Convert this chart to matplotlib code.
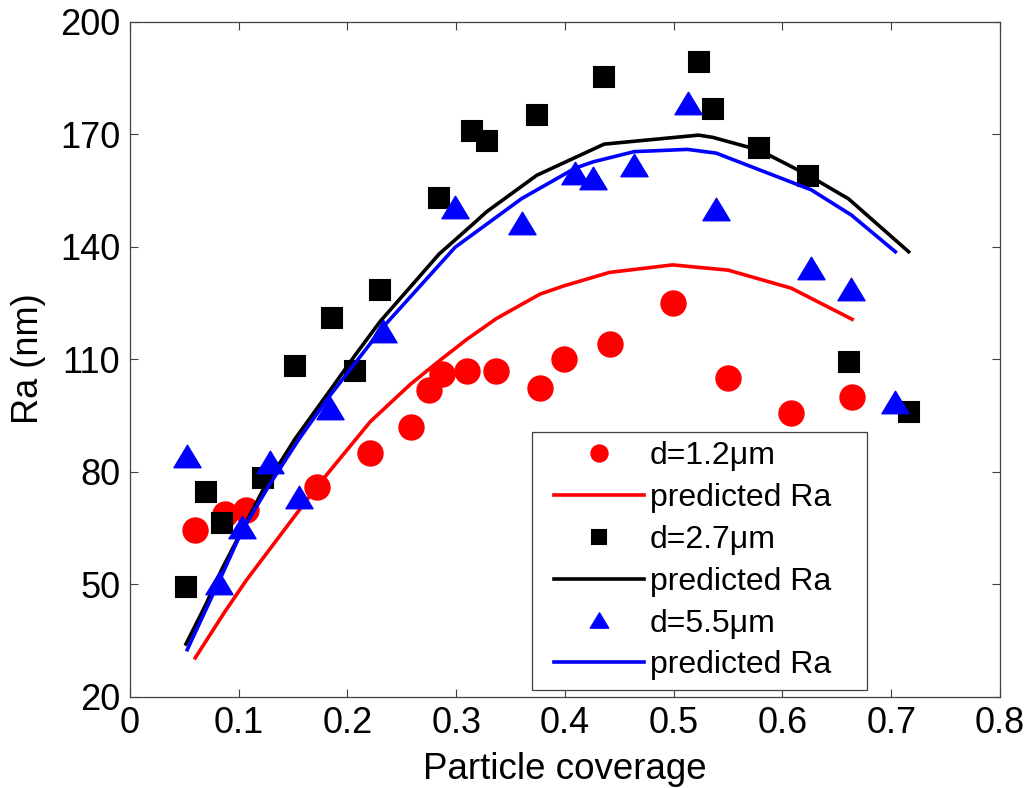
import matplotlib
matplotlib.use("Agg")
import matplotlib.pyplot as plt
from matplotlib.path import Path
from matplotlib.lines import Line2D
from matplotlib.legend_handler import HandlerLine2D

plt.rcParams["font.family"] = ["Liberation Sans", "DejaVu Sans"]

# d = 1.2 um
cov_12 = [0.060, 0.087, 0.107, 0.172, 0.221, 0.258, 0.275, 0.287, 0.310, 0.337,
          0.377, 0.399, 0.441, 0.499, 0.550, 0.608, 0.664]
ra_12 = [64.4, 68.6, 69.7, 75.8, 84.9, 92.0, 101.7, 105.9, 106.7, 106.7,
         102.2, 109.9, 113.9, 125.0, 104.9, 95.7, 99.8]
pred_12 = [30.3, 42.5, 51.0, 76.0, 93.3, 103.3, 107.3, 110.1, 115.3, 120.8,
           127.3, 129.5, 133.1, 135.1, 133.7, 128.9, 120.6]

# d = 2.7 um
cov_27 = [0.0515, 0.0699, 0.0846, 0.1227, 0.1518, 0.1861, 0.207, 0.230, 0.2843, 0.3143,
          0.3281, 0.3741, 0.436, 0.5228, 0.536, 0.5787, 0.6231, 0.6608, 0.716]
ra_27 = [49.3, 74.5, 66.2, 78.2, 108.1, 121.0, 106.9, 128.4, 152.9, 170.8,
         168.2, 175.1, 185.3, 189.1, 176.6, 166.2, 158.9, 109.1, 95.9]
pred_27 = [34.0, 44.6, 54.0, 75.3, 88.7, 102.5, 111.0, 120.0, 138.0, 145.7,
           149.3, 159.0, 167.3, 169.7, 169.1, 165.7, 159.1, 152.7, 138.6]

# d = 5.5 um
cov_55 = [0.0527, 0.0822, 0.1027, 0.1288, 0.1558, 0.184, 0.233, 0.299, 0.3603,
          0.4094, 0.4262, 0.4637, 0.5127, 0.5391, 0.6265, 0.6633, 0.7038]
ra_55 = [84.1, 50.2, 65.3, 82.6, 73.3, 96.9, 117.5, 150.6, 146.2,
         159.5, 158.2, 161.7, 178.2, 149.9, 134.2, 128.6, 98.6]
pred_55 = [32.5, 50.9, 64.0, 76.7, 88.8, 100.3, 118.6, 139.8, 152.8,
           160.9, 162.6, 165.3, 165.9, 164.9, 155.1, 148.4, 138.6]

labels = ["d=1.2\u03bcm", "predicted Ra", "d=2.7\u03bcm", "predicted Ra",
          "d=5.5\u03bcm", "predicted Ra"]

# wide, flat triangle like MATLAB's '^'
tri = Path([(-1, -0.83), (1, -0.83), (0, 0.83), (-1, -0.83)],
           [Path.MOVETO, Path.LINETO, Path.LINETO, Path.CLOSEPOLY])

fig = plt.figure(figsize=(10.29, 7.88), dpi=100)
ax = fig.add_axes([0.1263, 0.1161, 0.8455, 0.8566])

ax.plot(cov_12, ra_12, "o", color="#ff0000", ms=18, mec="#ff0000", label=labels[0])
ax.plot(cov_12, pred_12, "-", color="#ff0000", lw=2.6, label=labels[1])
ax.plot(cov_27, ra_27, "s", color="black", ms=14, mew=1.5, mec="black",
        label=labels[2])
ax.plot(cov_27, pred_27, "-", color="black", lw=2.6, label=labels[3])
ax.plot(cov_55, ra_55, marker=tri, ls="none", color="#0000ff", ms=19.5,
        mec="#0000ff", label=labels[4])
ax.plot(cov_55, pred_55, "-", color="#0000ff", lw=2.6, label=labels[5])

ax.set_xlim(0, 0.8)
ax.set_ylim(20, 200)
ax.set_xticks([0, 0.1, 0.2, 0.3, 0.4, 0.5, 0.6, 0.7, 0.8])
ax.set_xticklabels(["0", "0.1", "0.2", "0.3", "0.4", "0.5", "0.6", "0.7", "0.8"])
ax.set_yticks([20, 50, 80, 110, 140, 170, 200])

ax.tick_params(direction="in", length=6, width=0.8, color="#404040",
               labelsize=26, top=True, right=True, pad=7)
for sp in ax.spines.values():
    sp.set_color("#404040")
    sp.set_linewidth(0.9)

ax.set_xlabel("Particle coverage", fontsize=26.5, labelpad=8)
ax.set_ylabel("Ra (nm)", fontsize=26, labelpad=10)

leg = ax.legend(loc="lower left", bbox_to_anchor=(0.462, 0.0096, 0.385, 0.38),
                mode="expand", fontsize=23, markerscale=0.68, handlelength=3.22,
                handletextpad=0.17, labelspacing=0.37, borderpad=0.3,
                borderaxespad=0, fancybox=False, framealpha=1,
                handler_map={Line2D: HandlerLine2D(xpad=0.4)})
leg.get_frame().set_edgecolor("#404040")
leg.get_frame().set_linewidth(0.9)

fig.savefig("out.png", dpi=100)
